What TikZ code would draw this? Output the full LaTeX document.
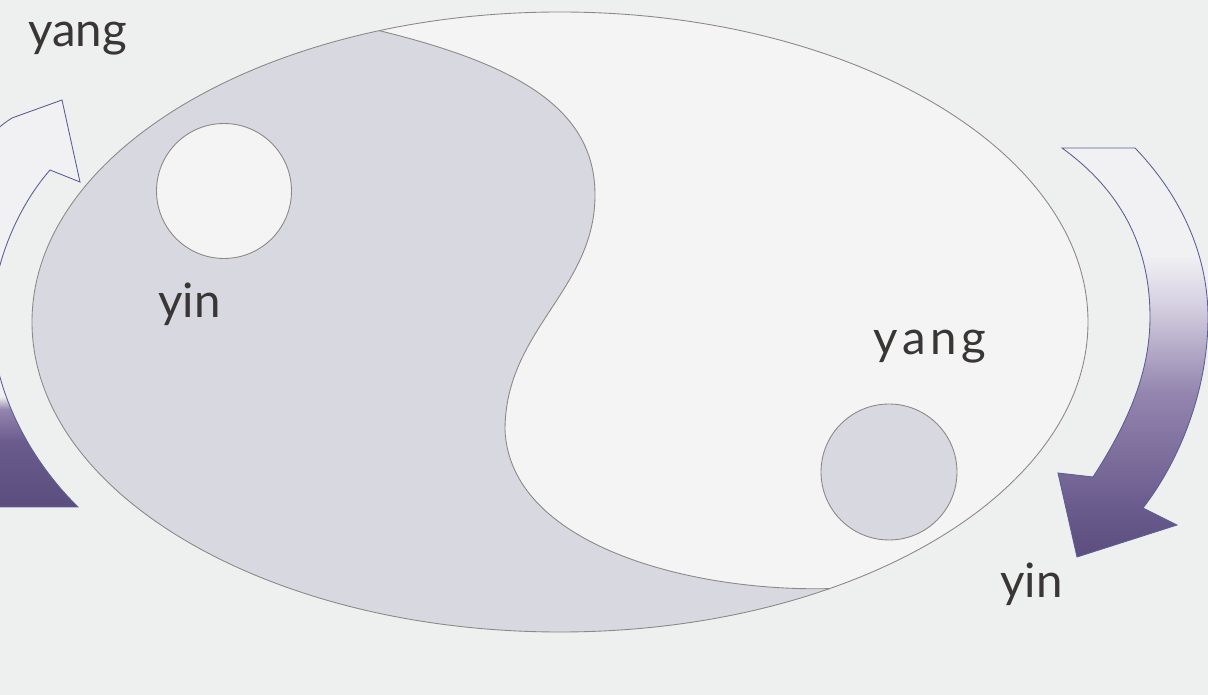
\documentclass[tikz,border=0pt]{standalone}
\usepackage{fontspec}
\newfontfamily\labelfont{Lato}
\definecolor{bg}{HTML}{EEF0EF}
\definecolor{yinfill}{HTML}{D8D8E0}
\definecolor{yangfill}{HTML}{F3F4F3}
\definecolor{edge}{HTML}{8E8787}
\definecolor{apurple}{HTML}{5C4D7F}
\definecolor{apurpleA}{HTML}{6A5B8D}
\definecolor{apurpleB}{HTML}{9385AE}
\definecolor{apurpleC}{HTML}{D6D1E2}
\definecolor{awhite}{HTML}{F1F1F4}
\definecolor{aedge}{HTML}{5E5E96}
\definecolor{txt}{HTML}{3A3636}
\pgfdeclareverticalshading{rightshade}{100bp}{color(0bp)=(apurple); color(25bp)=(apurple); color(31bp)=(apurpleA); color(45bp)=(apurpleB); color(56bp)=(apurpleC); color(62bp)=(awhite); color(100bp)=(awhite)}
\pgfdeclareverticalshading{leftshade}{100bp}{color(0bp)=(apurple); color(25bp)=(apurple); color(33bp)=(apurpleA); color(37bp)=(apurpleB); color(38.6bp)=(awhite); color(100bp)=(awhite)}
\begin{document}
\begin{tikzpicture}[x=0.02cm,y=-0.02cm,
  regionline/.style={draw=edge, line width=0.5pt},
  arrowline/.style={draw=aedge, line width=0.5pt},
  lbl/.style={font=\labelfont\fontsize{27}{30}\selectfont, text=txt, inner sep=0pt, anchor=base west}]
\useasboundingbox[fill=bg] (0,0) rectangle (1208,695);
\coordinate (C) at (560,322);
\coordinate (top) at (379.4,30.7);
\coordinate (bot) at (829.6,588.6);
% whole ellipse (yang)
\path[fill=yangfill] (C) ellipse [x radius=528, y radius=310];
% yin region
\path[fill=yinfill] (top) .. controls (520,65) and (595,110) .. (595,195)
  .. controls (595,290) and (505,330) .. (505,430)
  .. controls (510,545) and (690,592) .. (bot)
  arc[start angle=59.3, end angle=250, x radius=528, y radius=310] -- cycle;
% S-curve outline
\draw[regionline] (top) .. controls (520,65) and (595,110) .. (595,195)
  .. controls (595,290) and (505,330) .. (505,430)
  .. controls (510,545) and (690,592) .. (bot);
% ellipse outline
\draw[regionline] (C) ellipse [x radius=528, y radius=310];
% small circles
\node[circle, minimum size=2.7cm, inner sep=0pt, fill=yangfill, regionline] (whitedot) at (224,191) {};
\node[circle, minimum size=2.72cm, inner sep=0pt, fill=yinfill, regionline] (graydot) at (889,472) {};
% arrows
\begin{scope}
\clip (0,0) rectangle (1208,695);
\shadedraw[shading=leftshade, arrowline] (78,507) .. controls (30,460) and (-8,390) .. (-8,320)
  .. controls (-8,270) and (15,210) .. (50,170) -- (80,182) -- (62,100) -- (12,118)
  .. controls (-40,150) and (-80,250) .. (-80,350) -- (-80,507) -- cycle;
\shadedraw[shading=rightshade, arrowline] (1062,148) -- (1135,148)
  .. controls (1185,200) and (1208,260) .. (1208,317)
  .. controls (1208,390) and (1180,460) .. (1143,508)
  -- (1177,525) -- (1077,557) -- (1058,473) -- (1093,477)
  .. controls (1130,420) and (1150,370) .. (1150,317)
  .. controls (1150,245) and (1120,190) .. (1062,148) -- cycle;
\end{scope}
% labels
\node[lbl] (yangtop) at (28,47) {yang};
\node[lbl] (yinleft) at (158,318) {yin};
\node[lbl, font=\labelfont\addfontfeature{LetterSpace=10}\fontsize{27}{30}\selectfont] (yangright) at (873,355) {yang};
\node[lbl] (yinright) at (1000,598) {yin};
\end{tikzpicture}
\end{document}
